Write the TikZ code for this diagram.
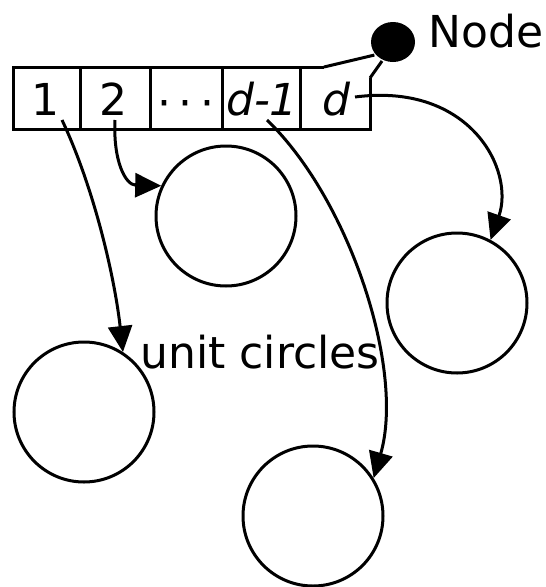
\documentclass[tikz,border=0pt]{standalone}
\usepackage{fontspec}
\setmainfont{DejaVu Sans}
\usetikzlibrary{arrows.meta,shapes.geometric}
\begin{document}
\begin{tikzpicture}[x=1pt,y=-1pt,
  line width=3pt,
  lbl/.style={font=\fontsize{44}{50}\selectfont, inner sep=0pt},
  ucirc/.style={draw, circle, minimum size=140pt, inner sep=0pt},
  ptr/.style={-{Triangle[length=26pt,width=24pt]}},
  ]
\useasboundingbox (0,0) rectangle (546,587);
% array
\coordinate (tl) at (13,67);
\coordinate (bl) at (13,129);
\coordinate (br) at (370,129);
\coordinate (tc) at (324,67);
\coordinate (rc) at (370,78);
\node[ellipse, fill=black, minimum width=44pt, minimum height=40pt, inner sep=0pt] (dot) at (393,42) {};
\draw (tc) -- (tl) -- (bl) -- (br) -- (rc);
\draw (tc) -- (dot.215);
\draw (rc) -- (dot.240);
\foreach \x in {80,150,222,300} \draw (\x,67) -- (\x,129);
% labels
\node[lbl] (l1) at (45,99) {1};
\node[lbl] (l2) at (113,99) {2};
\node[lbl] (ldots) at (186,109) {·\,·\,·};
\node[lbl] (ld1) at (262,99) {\itshape d-1};
\node[lbl] (ld) at (336,99) {\itshape d};
\node[lbl, anchor=west] (nodelbl) at (427,31) {Node};
\node[lbl] (uc) at (260,352) {unit circles};
% circles
\node[ucirc] (c1) at (226,216) {};
\node[ucirc] (c2) at (457,303) {};
\node[ucirc] (c3) at (84,412) {};
\node[ucirc] (c4) at (313,516) {};
% pointers
\coordinate (s1) at (62,120);
\coordinate (s2) at (115,120);
\coordinate (s3) at (267,120);
\coordinate (s4) at (355,97);
\draw[ptr] (s1) .. controls (95,190) and (115,280) .. (c3.57);
\draw[ptr] (s2) .. controls (113,160) and (125,185) .. (c1.155);
\draw[ptr] (s3) .. controls (350,200) and (405,370) .. (c4.32);
\draw[ptr] (s4) .. controls (470,82) and (515,170) .. (c2.62);
\end{tikzpicture}
\end{document}
